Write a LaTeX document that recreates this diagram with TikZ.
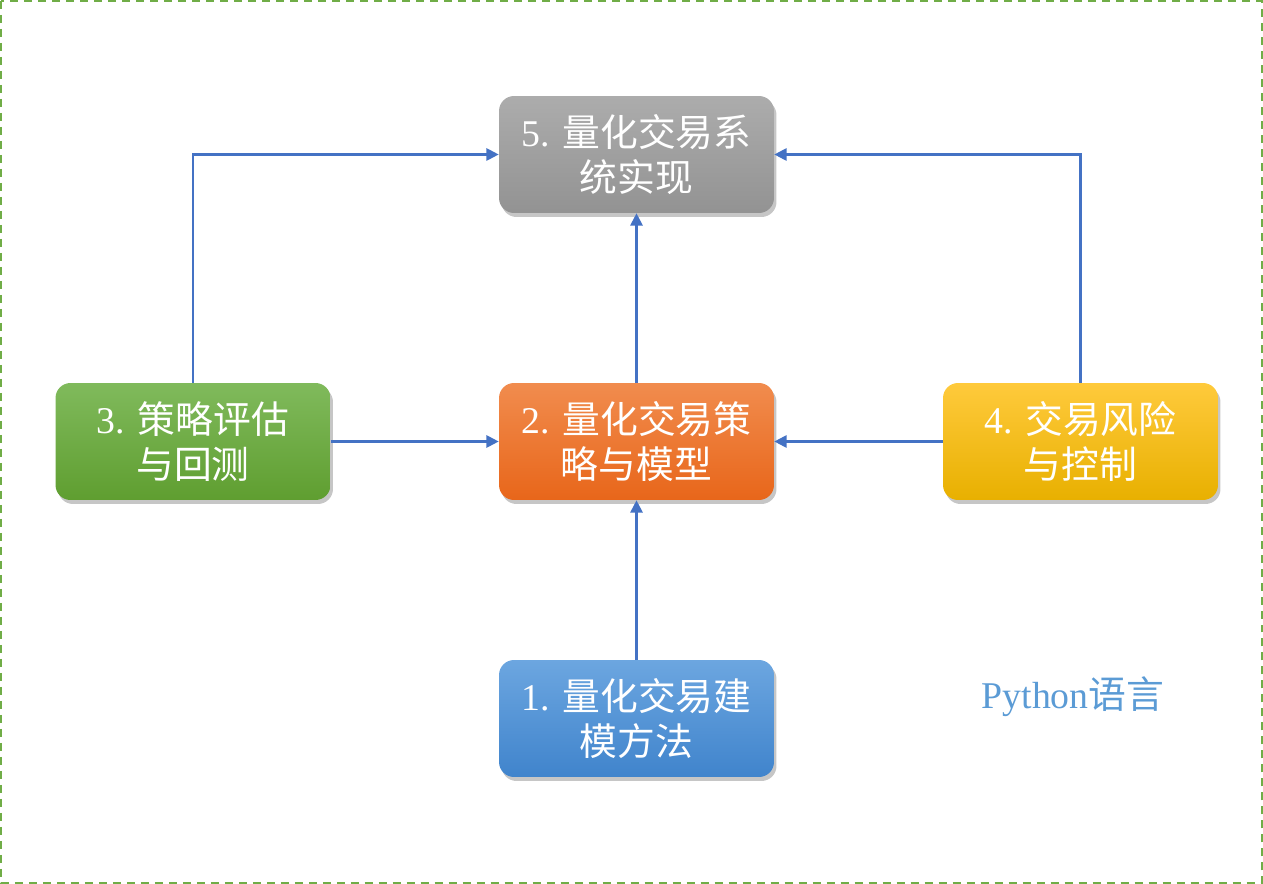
\documentclass[tikz,border=0pt]{standalone}
\usepackage{fontspec}
\setmainfont{Liberation Serif}
\newfontfamily\cjk{Noto Sans CJK SC}
\usetikzlibrary{shadows,arrows.meta}

\definecolor{linkblue}{HTML}{4472C4}
\definecolor{frame}{HTML}{70AD47}
\definecolor{pytext}{HTML}{5B9BD5}

\begin{document}
\begin{tikzpicture}[x=0.02cm,y=-0.02cm,
    box/.style={rounded corners=0.3cm, minimum width=5.5cm, minimum height=2.34cm,
        inner sep=2pt, text=white, align=center,
        font=\fontsize{21.5}{26}\selectfont,
        drop shadow={shadow xshift=0.05cm, shadow yshift=-0.08cm, opacity=0.45}},
    link/.style={draw=linkblue, line width=1.2pt, -{Triangle[length=7pt,width=7pt]}}]
    \def\W{1263}
    \def\H{884}
    \useasboundingbox (0,0) rectangle (\W,\H);
    \draw[frame, line width=1pt, dash pattern=on 0.16cm off 0.12cm] (1,1) rectangle (1262,883);

    % boxes
    \node[box, top color=gray!65, bottom color=gray!85] (sys) at (636.5,154.5)
        {5. {\cjk 量化交易系}\\{\cjk 统实现}};
    \node[box, top color={rgb,255:red,241;green,140;blue,78}, bottom color={rgb,255:red,232;green,102;blue,26}] (model) at (636.5,441.5)
        {2. {\cjk 量化交易策}\\{\cjk 略与模型}};
    \node[box, top color={rgb,255:red,128;green,186;blue,92}, bottom color={rgb,255:red,95;green,158;blue,48}] (eval) at (193,441.5)
        {3. {\cjk 策略评估}\\{\cjk 与回测}};
    \node[box, top color={rgb,255:red,255;green,202;blue,60}, bottom color={rgb,255:red,232;green,176;blue,0}] (risk) at (1080.5,441.5)
        {4. {\cjk 交易风险}\\{\cjk 与控制}};
    \node[box, top color={rgb,255:red,108;green,166;blue,224}, bottom color={rgb,255:red,64;green,132;blue,204}] (method) at (636.5,718.5)
        {1. {\cjk 量化交易建}\\{\cjk 模方法}};

    \node[text=pytext, font=\fontsize{21.5}{24}\selectfont] (lang) at (1073,697) {Python{\cjk 语言}};

    % connectors
    \draw[link] (method.north) -- (model.south);
    \draw[link] (model.north) -- (sys.south);
    \draw[link] (eval.east) -- (model.west);
    \draw[link] (risk.west) -- (model.east);
    \draw[link] (eval.north) |- (sys.west);
    \draw[link] (risk.north) |- (sys.east);
\end{tikzpicture}
\end{document}
